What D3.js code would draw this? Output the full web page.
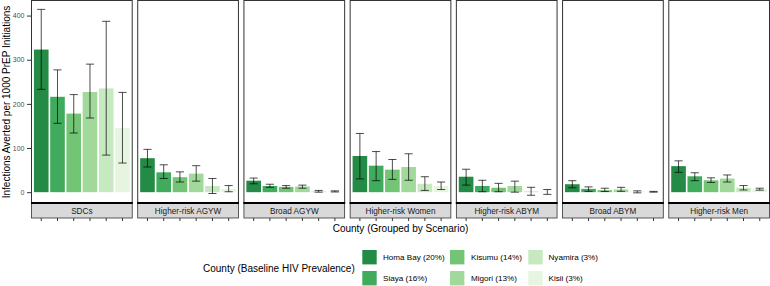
<!DOCTYPE html>
<html>
<head>
<meta charset="utf-8">
<script src="https://cdn.jsdelivr.net/npm/d3@7"></script>
<style>
  body { margin: 0; background: #fff; }
  text { font-family: "Liberation Sans", Arial, sans-serif; }
</style>
</head>
<body>
<div id="chart-area"></div>
<script>
/*
*    infections averted by county and scenario
*/
var counties = ["Homa Bay", "Siaya", "Kisumu", "Migori", "Nyamira", "Kisii"];
var countyLabels = ["Homa Bay (20%)", "Siaya (16%)", "Kisumu (14%)", "Migori (13%)", "Nyamira (3%)", "Kisii (3%)"];
var scenarios = ["SDCs", "Higher-risk AGYW", "Broad AGYW", "Higher-risk Women", "Higher-risk ABYM", "Broad ABYM", "Higher-risk Men"];

// estimates and uncertainty bounds, one row per scenario (county order as above)
var averted = [
    [323, 216, 178, 227, 235, 145],
    [77, 45, 34, 42, 14, 7],
    [26, 14, 12, 13, 2, 1.5],
    [82, 60, 51, 57, 19, 14],
    [35, 14, 10, 14, 2, 1],
    [18, 7.5, 4.5, 6, 1, 0.8],
    [59, 36, 27, 31, 10, 7]
];
var lower = [
    [233, 156, 134, 168, 84, 66],
    [57, 31, 23, 25, -3, 1],
    [19, 11, 9, 9, 0, 0.5],
    [30, 26, 29, 27, 4, 6],
    [16, 1, 1, 0, -7, -5],
    [10, 2, 1.5, 2, -1.5, 0],
    [45, 26, 22, 23, 5, 4.5]
];
var upper = [
    [414, 277, 221, 290, 387, 226],
    [97, 62, 46, 60, 31, 15],
    [32, 18, 15, 16, 4, 3],
    [133, 92, 74, 87, 35, 23],
    [52, 27, 20, 25, 11, 6],
    [26, 12, 9, 11, 3, 1.8],
    [71, 44, 32.5, 39, 15, 9]
];
var yTicks = [0, 100, 200, 300, 400];

var width = 770;
var height = 286;
var left = 31.5, right = 769.5;
var panelTop = 1, panelBottom = 203;
var stripH = 15;
var gap = 5.5;
var pw = (right - left - gap * (scenarios.length - 1)) / scenarios.length;

var svg = d3.select("#chart-area")
    .append("svg")
        .attr("width", width)
        .attr("height", height);

var color = d3.scaleOrdinal()
    .domain(counties)
    .range(["#238b45", "#41ab5d", "#74c476", "#a1d99b", "#c7e9c0", "#e5f5e0"]);

var y = d3.scaleLinear()
    .domain([-24.5, 433])
    .range([panelBottom, panelTop]);

var x = d3.scaleBand()
    .domain(counties)
    .range([0, pw])
    .paddingInner(0.1)
    .paddingOuter(0.15);

// y axis
var leftAxis = d3.axisLeft(y).tickValues(yTicks).tickSize(4.5).tickPadding(2.5);
var ga = svg.append("g")
    .attr("transform", "translate(" + left + ",0)")
    .call(leftAxis);
ga.select(".domain").remove();
ga.selectAll("line").attr("stroke", "#333333");
ga.selectAll("text")
    .attr("fill", "#4d4d4d")
    .attr("font-size", "7px")
    .attr("font-family", "Liberation Sans, Arial, sans-serif");

scenarios.forEach((s, i) => {
    var px = left + i * (pw + gap);
    var g = svg.append("g").attr("transform", "translate(" + px + ",0)");

    var rows = counties.map((c, j) => {
        return {county: c, value: averted[i][j], lo: lower[i][j], hi: upper[i][j]};
    });

    g.selectAll("rect.bar")
        .data(rows)
        .enter()
        .append("rect")
            .attr("class", "bar")
            .attr("x", (d) => { return x(d.county); })
            .attr("width", x.bandwidth())
            .attr("y", (d) => { return y(d.value); })
            .attr("height", (d) => { return y(0) - y(d.value); })
            .attr("fill", (d) => { return color(d.county); });

    var cap = x.step() * 0.25;
    var eb = g.selectAll("g.err")
        .data(rows)
        .enter()
        .append("g")
            .attr("class", "err")
            .attr("stroke", "#000")
            .attr("stroke-width", 0.7)
            .attr("transform", (d) => { return "translate(" + (x(d.county) + x.bandwidth() / 2) + ",0)"; });
    eb.append("line")
        .attr("y1", (d) => { return y(d.lo); })
        .attr("y2", (d) => { return y(d.hi); });
    eb.append("line")
        .attr("x1", -cap).attr("x2", cap)
        .attr("y1", (d) => { return y(d.hi); })
        .attr("y2", (d) => { return y(d.hi); });
    eb.append("line")
        .attr("x1", -cap).attr("x2", cap)
        .attr("y1", (d) => { return y(d.lo); })
        .attr("y2", (d) => { return y(d.lo); });

    // panel border
    g.append("rect")
        .attr("x", 0).attr("y", panelTop - 0.5)
        .attr("width", pw).attr("height", panelBottom - panelTop + 0.5)
        .attr("fill", "none")
        .attr("stroke", "#333333")
        .attr("stroke-width", 1);

    // strip below the panel
    g.append("rect")
        .attr("x", 0).attr("y", panelBottom)
        .attr("width", pw).attr("height", stripH)
        .attr("fill", "#d9d9d9")
        .attr("stroke", "#333333")
        .attr("stroke-width", 0.8);
    g.append("line")
        .attr("x1", -0.5).attr("x2", pw + 0.5)
        .attr("y1", panelBottom).attr("y2", panelBottom)
        .attr("stroke", "#000")
        .attr("stroke-width", 2);
    g.append("text")
        .attr("x", pw / 2)
        .attr("y", panelBottom + stripH / 2 + 3)
        .attr("text-anchor", "middle")
        .attr("font-size", "8.2px")
        .attr("fill", "#1a1a1a")
        .text(s);

    // x ticks under the strip, no labels
    var bottomAxis = d3.axisBottom(x).tickSize(3).tickFormat("");
    var gx = g.append("g")
        .attr("transform", "translate(0," + (panelBottom + stripH) + ")")
        .call(bottomAxis);
    gx.select(".domain").remove();
    gx.selectAll("line").attr("stroke", "#333333");
});

// axis titles
svg.append("text")
    .attr("transform", "translate(9.5," + ((panelTop + panelBottom) / 2) + ") rotate(-90)")
    .attr("text-anchor", "middle")
    .attr("font-size", "10px")
    .attr("fill", "#000")
    .text("Infections Averted per 1000 PrEP Initiations");

svg.append("text")
    .attr("x", (left + right) / 2)
    .attr("y", 231.5)
    .attr("text-anchor", "middle")
    .attr("font-size", "10px")
    .attr("fill", "#000")
    .text("County (Grouped by Scenario)");

// legend
var legend = svg.append("g");
legend.append("text")
    .attr("x", 203)
    .attr("y", 271.5)
    .attr("font-size", "10px")
    .attr("fill", "#000")
    .text("County (Baseline HIV Prevalence)");

var keyX = [362.3, 450, 528.3];
var labX = [383, 471, 548.5];
var keyY = [250, 271];
var keySize = 14.4;

var items = legend.selectAll("g.item")
    .data(counties)
    .enter()
    .append("g")
        .attr("class", "item");
items.append("rect")
    .attr("x", (d, k) => { return keyX[Math.floor(k / 2)]; })
    .attr("y", (d, k) => { return keyY[k % 2]; })
    .attr("width", keySize)
    .attr("height", keySize)
    .attr("fill", (d) => { return color(d); });
items.append("text")
    .attr("x", (d, k) => { return labX[Math.floor(k / 2)]; })
    .attr("y", (d, k) => { return keyY[k % 2] + keySize / 2 + 2.9; })
    .attr("font-size", "8.1px")
    .attr("fill", "#000")
    .text((d, k) => { return countyLabels[k]; });
</script>
</body>
</html>
